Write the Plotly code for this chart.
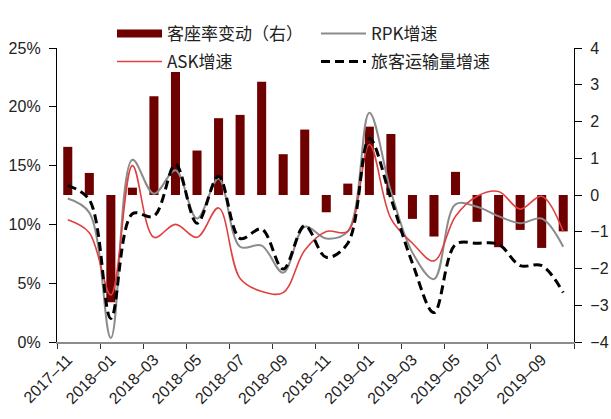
import plotly.graph_objects as go

# Monthly categories, Nov 2017 - Oct 2019
months = [
    "2017–11", "2017–12", "2018–01", "2018–02", "2018–03", "2018–04",
    "2018–05", "2018–06", "2018–07", "2018–08", "2018–09", "2018–10",
    "2018–11", "2018–12", "2019–01", "2019–02", "2019–03", "2019–04",
    "2019–05", "2019–06", "2019–07", "2019–08", "2019–09", "2019–10",
]

# Load-factor change, percentage points (right axis)
load_factor_chg = [1.31, 0.60, -2.92, 0.20, 2.69, 3.35, 1.21, 2.09, 2.18, 3.08, 1.11, 1.78,
                   -0.47, 0.31, 1.86, 1.66, -0.65, -1.13, 0.63, -0.73, -1.42, -0.95, -1.44, -0.99]

# Growth rates, % (left axis)
rpk_growth = [12.2, 11.0, 0.35, 15.5, 12.6, 14.6, 10.5, 13.9, 8.1, 8.2, 5.9, 9.8,
              8.8, 9.4, 19.5, 12.8, 7.6, 5.35, 11.7, 11.5, 10.7, 10.1, 10.5, 8.1]
ask_growth = [10.4, 9.3, 4.0, 15.0, 8.9, 10.0, 8.9, 11.4, 5.4, 4.3, 4.2, 7.8,
              9.4, 9.4, 16.8, 10.5, 8.4, 6.9, 10.7, 12.4, 12.8, 11.3, 12.4, 9.4]
pax_growth = [13.3, 12.1, 2.0, 10.9, 10.7, 15.1, 10.1, 14.1, 8.8, 9.6, 6.2, 9.9,
              7.2, 8.4, 17.3, 12.2, 6.7, 2.5, 8.3, 8.4, 8.3, 6.5, 6.5, 4.2]

left_ticks = [0, 5, 10, 15, 20, 25]
left_tick_text = [f"{v}%" for v in left_ticks]
right_ticks = [-4, -3, -2, -1, 0, 1, 2, 3, 4]

MAROON = "#6E0000"
GRAY = "#8C8C8C"
RED = "#E0403F"
NUM_FONT = "Liberation Sans Narrow, Arial Narrow, Liberation Sans, Arial, sans-serif"
CJK_FONT = "Noto Sans CJK SC, Noto Sans, sans-serif"

fig = go.Figure()

# bars on the primary axis (drawn underneath), placed on the right side
fig.add_trace(go.Bar(
    x=months, y=load_factor_chg, width=0.42,
    marker=dict(color=MAROON, line=dict(width=0)),
    yaxis="y", showlegend=False, name="客座率变动（右）",
))
# legend swatch for the bars
fig.add_trace(go.Scatter(
    x=[None], y=[None], mode="lines", yaxis="y",
    line=dict(color=MAROON, width=8),
    name="客座率变动（右）", legend="legend",
))

fig.add_trace(go.Scatter(
    x=months, y=rpk_growth, mode="lines", yaxis="y2",
    line=dict(color=GRAY, width=2, shape="spline", smoothing=1.0),
    name="RPK增速", legend="legend",
))
fig.add_trace(go.Scatter(
    x=months, y=ask_growth, mode="lines", yaxis="y2",
    line=dict(color=RED, width=1.6, shape="spline", smoothing=1.0),
    name="ASK增速", legend="legend2",
))
fig.add_trace(go.Scatter(
    x=months, y=pax_growth, mode="lines", yaxis="y2",
    line=dict(color="black", width=3, dash="9px,5px", shape="spline", smoothing=1.0),
    name="旅客运输量增速", legend="legend2",
))

# plot-area geometry in pixels, used to place the two legend rows
PLOT_L, PLOT_T, PLOT_W, PLOT_H = 57, 48, 517, 294


def paper_x(px):
    return (px - PLOT_L) / PLOT_W


def paper_y(py):
    return 1 - (py - PLOT_T) / PLOT_H


legend_common = dict(
    orientation="h", xref="paper", yref="paper",
    xanchor="left", yanchor="middle",
    font=dict(family=CJK_FONT, size=17, color="#222"),
    bgcolor="rgba(0,0,0,0)", itemwidth=45, entrywidth=144,
    tracegroupgap=0, itemclick=False,
)

fig.update_layout(
    width=611, height=419,
    margin=dict(l=PLOT_L, r=611 - PLOT_L - PLOT_W, t=PLOT_T, b=419 - PLOT_T - PLOT_H),
    paper_bgcolor="white", plot_bgcolor="white",
    font=dict(family=NUM_FONT, size=15, color="#222"),
    xaxis=dict(
        type="category", categoryorder="array", categoryarray=months,
        range=[-0.5, 23.5], dtick=2, tickson="boundaries",
        tickangle=-45, ticks="outside", ticklen=5, tickcolor="#333",
        showline=True, linecolor=GRAY, linewidth=2,
        showgrid=False, zeroline=False, automargin=False,
        tickfont=dict(family=NUM_FONT, size=16, color="#222"),
    ),
    yaxis=dict(
        side="right", range=[-4, 4], tickvals=right_ticks,
        ticks="outside", ticklen=7, tickcolor="black",
        showline=True, linecolor="black", linewidth=1.3,
        showgrid=False, zeroline=False, ticklabelstandoff=5, automargin=False,
        tickfont=dict(family=NUM_FONT, size=16, color="#222"),
    ),
    yaxis2=dict(
        overlaying="y", side="left", range=[0, 25],
        tickvals=left_ticks, ticktext=left_tick_text,
        ticks="outside", ticklen=7, tickcolor="black",
        showline=True, linecolor="black", linewidth=1.3,
        showgrid=False, zeroline=False, ticklabelstandoff=5, automargin=False,
        tickfont=dict(family=NUM_FONT, size=16, color="#222"),
    ),
    legend=dict(x=paper_x(112), y=paper_y(34), **legend_common),
    legend2=dict(x=paper_x(112), y=paper_y(62), **legend_common),
)

fig.write_html("out.html")
